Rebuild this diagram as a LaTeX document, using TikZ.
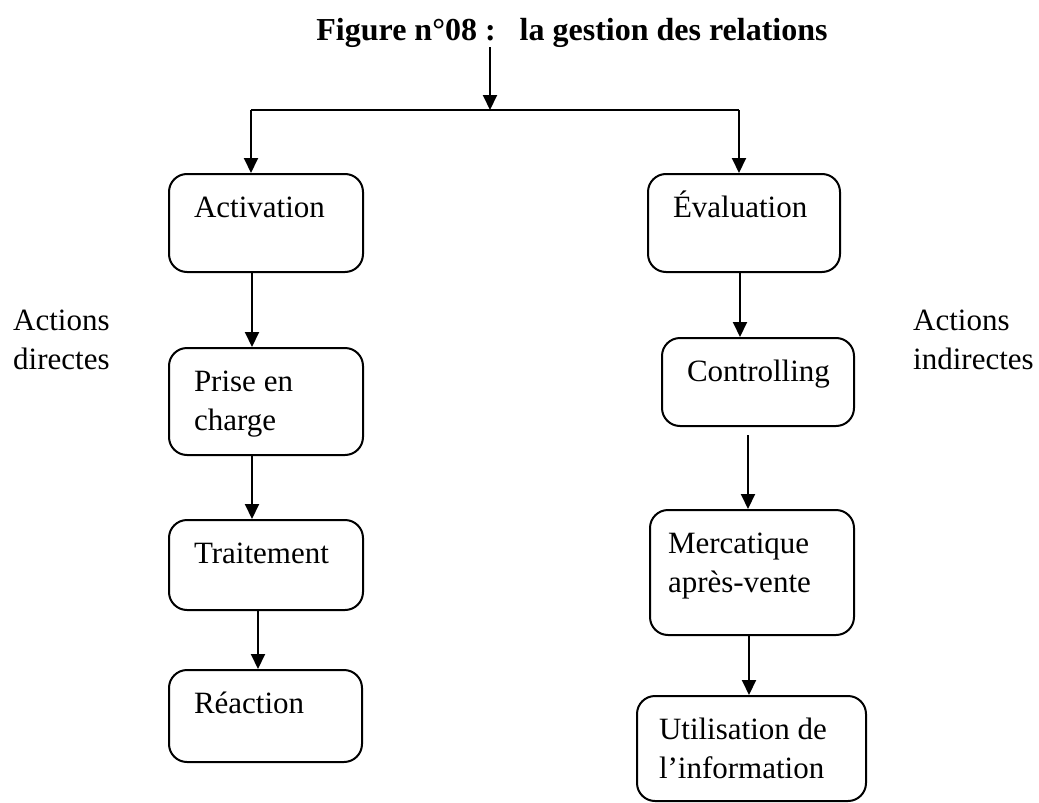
\documentclass[tikz,border=0pt]{standalone}
\usepackage{fontspec}
\setmainfont{Liberation Serif}
\usetikzlibrary{arrows.meta, positioning}

\begin{document}
\begin{tikzpicture}[x=1pt, y=-1pt, every node/.style={font=\fontsize{31}{39}\selectfont},
    arr/.style={-{Triangle[length=15pt, width=14pt]}, line width=2pt},
    blk/.style={draw, line width=2pt, rounded corners=18pt, anchor=north west,
                inner xsep=25pt, inner ysep=0pt, align=flush left, text height=43pt}]
  \useasboundingbox (0,0) rectangle (1039,803);
  \node[font=\fontsize{32}{38}\selectfont\bfseries, anchor=base, inner sep=0pt] (title) at (572,40) {Figure n°08 :~~~la gestion des relations};
  % left branch: direct actions
  \node[blk, text width=144pt, text depth=55pt] (act) at (168,173) {Activation};
  \node[blk, text width=144pt, text depth=64pt] (prise) at (168,347) {Prise en\\charge};
  \node[blk, text width=144pt, text depth=47pt] (trait) at (168,519) {Traitement};
  \node[blk, text width=143pt, text depth=49pt] (react) at (168,669) {Réaction};
  % right branch: indirect actions
  \node[blk, text width=142pt, text depth=55pt] (eval) at (647,173) {Évaluation};
  \node[blk, text width=142pt, text depth=45pt] (ctrl) at (661,337) {Controlling};
  \node[blk, inner xsep=18pt, text width=168pt, text depth=82pt] (merc) at (649,509) {Mercatique\\après-vente};
  \node[blk, inner xsep=22pt, text width=185pt, text depth=62pt] (util) at (636,695) {Utilisation de\\l’information};
  \node[anchor=north west, inner sep=0pt, text width=120pt, align=flush left, text height=20pt] (dir) at (13,310) {Actions\\directes};
  \node[anchor=north west, inner sep=0pt, text width=124pt, align=flush left, text height=20pt] (indir) at (913,310) {Actions\\indirectes};
  \coordinate (split) at (490,110);
  \coordinate (la) at (251,110);
  \coordinate (ra) at (739,110);
  \draw[arr] (split |- title.south) -- (split);
  \draw[line width=2pt] (la) -- (ra);
  \draw[arr] (la) -- (la |- act.north);
  \draw[arr] (ra) -- (ra |- eval.north);
  \draw[arr] ([xshift=-14pt]act.south) -- ([xshift=-14pt]act.south |- prise.north);
  \draw[arr] ([xshift=-14pt]prise.south) -- ([xshift=-14pt]prise.south |- trait.north);
  \draw[arr] ([xshift=-8pt]trait.south) -- ([xshift=-8pt]trait.south |- react.north);
  \draw[arr] ([xshift=-4pt]eval.south) -- ([xshift=-4pt]eval.south |- ctrl.north);
  \draw[arr] ([shift={(-10pt,-8pt)}]ctrl.south) -- ([xshift=-10pt]ctrl.south |- merc.north);
  \draw[arr] ([xshift=-3pt]merc.south) -- ([xshift=-3pt]merc.south |- util.north);
\end{tikzpicture}
\end{document}
